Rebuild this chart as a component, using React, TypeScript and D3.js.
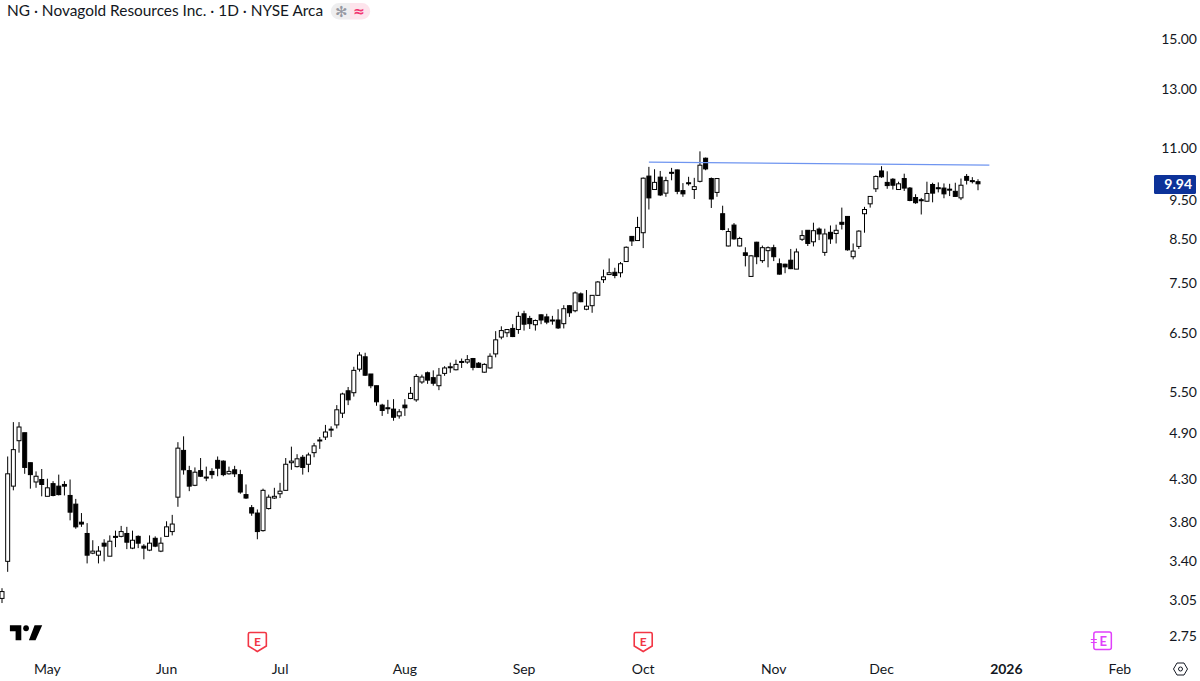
import React from "react";
import * as d3 from "d3";

const opens = [3.06,3.40,4.21,4.79,4.90,4.50,4.26,4.29,4.09,4.24,4.21,4.23,4.10,4.00,3.80,3.68,3.48,3.46,3.58,3.45,3.65,3.65,3.68,3.53,3.65,3.55,3.51,3.63,3.50,3.65,3.70,4.08,4.66,4.40,4.22,4.40,4.32,4.39,4.53,4.52,4.36,4.41,4.35,4.11,3.96,3.90,3.71,3.95,4.07,4.12,4.16,4.50,4.45,4.57,4.48,4.63,4.79,4.84,4.94,5.01,5.18,5.52,5.49,5.87,6.08,5.79,5.60,5.30,5.26,5.24,5.14,5.30,5.40,5.38,5.66,5.81,5.73,5.60,5.80,5.90,5.86,6.00,5.99,6.05,5.97,5.82,5.89,6.13,6.43,6.51,6.59,6.57,6.87,6.78,6.66,6.85,6.81,6.75,6.75,6.68,7.03,6.93,7.27,6.96,7.03,7.24,7.57,7.68,7.73,7.72,7.97,8.56,8.46,8.65,10.16,9.78,10.13,9.68,10.27,10.34,9.75,9.97,9.78,10.01,10.69,10.09,9.70,9.13,8.33,8.84,8.33,8.17,7.64,8.42,7.99,8.22,8.29,7.92,7.91,8.00,7.80,8.49,8.71,8.43,8.74,8.18,8.66,8.63,8.91,9.06,8.08,8.32,9.13,9.39,9.80,10.31,9.98,10.07,9.78,10.09,9.82,9.56,9.50,9.46,9.92,9.83,9.82,9.79,9.73,9.55,10.15,10.03,10.00];
const highs = [3.15,4.58,5.05,5.05,4.90,4.50,4.39,4.42,4.30,4.27,4.35,4.27,4.29,4.06,3.90,3.79,3.61,3.55,3.62,3.66,3.71,3.76,3.75,3.71,3.66,3.57,3.66,3.65,3.64,3.81,3.88,4.77,4.85,4.46,4.44,4.56,4.45,4.43,4.58,4.53,4.45,4.46,4.41,4.23,3.99,3.94,4.18,4.11,4.19,4.25,4.56,4.71,4.61,4.60,4.63,4.76,4.84,5.01,4.99,5.30,5.49,5.58,5.91,6.16,6.15,5.79,5.60,5.32,5.38,5.39,5.24,5.39,5.58,5.79,5.78,5.83,5.85,5.89,5.92,5.98,6.03,6.05,6.11,6.06,5.99,5.97,6.14,6.54,6.63,6.58,6.67,6.91,6.93,6.83,6.76,6.86,6.87,6.83,6.96,7.04,7.04,7.32,7.30,7.35,7.24,7.54,7.79,8.04,7.83,7.96,8.32,8.57,9.05,10.12,10.43,10.36,10.31,10.14,10.40,10.35,9.96,10.14,10.11,10.90,10.71,10.12,10.10,9.34,8.76,8.89,8.55,8.30,8.12,8.43,8.34,8.32,8.36,8.04,7.92,8.26,8.27,8.71,8.71,8.90,8.78,8.75,8.83,8.85,9.29,9.07,8.39,8.71,9.31,9.60,10.18,10.45,10.30,10.10,10.00,10.23,9.85,9.65,9.55,10.00,9.97,9.98,9.95,9.94,9.97,10.09,10.22,10.13,10.07];
const lows = [3.02,3.30,4.16,4.63,4.36,4.18,4.19,4.09,4.09,4.09,4.10,4.10,3.82,3.73,3.75,3.38,3.47,3.38,3.40,3.45,3.54,3.64,3.52,3.52,3.53,3.42,3.50,3.54,3.49,3.65,3.66,3.97,4.35,4.15,4.21,4.32,4.27,4.30,4.33,4.33,4.35,4.32,4.12,4.06,3.87,3.62,3.70,3.94,4.06,4.07,4.16,4.41,4.44,4.35,4.38,4.57,4.68,4.80,4.84,4.96,5.11,5.30,5.43,5.83,5.76,5.56,5.29,5.14,5.17,5.07,5.10,5.14,5.39,5.35,5.63,5.63,5.60,5.53,5.76,5.81,5.85,5.89,5.96,5.85,5.89,5.81,5.88,6.07,6.39,6.43,6.43,6.49,6.55,6.58,6.55,6.67,6.67,6.66,6.58,6.59,6.81,6.90,7.10,6.94,6.89,7.23,7.50,7.67,7.60,7.62,7.96,8.33,8.45,8.28,9.24,9.77,9.60,9.58,10.04,9.65,9.58,9.89,9.52,9.98,10.33,9.28,9.58,8.71,8.32,8.48,8.32,7.86,7.63,7.91,7.94,7.84,7.98,7.68,7.71,7.80,7.80,8.45,8.33,8.32,8.47,8.10,8.38,8.39,8.73,8.22,8.02,8.26,8.65,9.29,9.71,10.11,9.80,9.78,9.78,9.74,9.46,9.39,9.11,9.45,9.43,9.70,9.54,9.60,9.58,9.49,9.92,9.95,9.76];
const closes = [3.12,4.36,4.67,4.98,4.44,4.35,4.33,4.23,4.19,4.10,4.11,4.21,3.91,3.75,3.78,3.46,3.50,3.50,3.55,3.60,3.64,3.70,3.59,3.61,3.58,3.53,3.58,3.55,3.58,3.75,3.78,4.69,4.41,4.21,4.38,4.33,4.31,4.35,4.43,4.35,4.39,4.36,4.14,4.07,3.90,3.70,4.16,4.08,4.09,4.15,4.48,4.52,4.55,4.44,4.60,4.72,4.80,4.91,4.95,5.23,5.47,5.38,5.85,6.11,5.77,5.60,5.35,5.22,5.25,5.12,5.20,5.26,5.48,5.75,5.74,5.69,5.64,5.77,5.89,5.91,5.95,5.99,6.03,5.90,5.90,5.95,6.09,6.38,6.55,6.57,6.44,6.82,6.67,6.68,6.74,6.75,6.71,6.74,6.60,6.97,6.89,7.29,7.11,7.02,7.24,7.52,7.63,7.72,7.66,7.92,8.30,8.45,8.78,10.10,9.55,9.98,9.63,10.03,10.26,9.73,9.66,9.96,9.86,10.48,10.37,9.52,10.09,8.73,8.68,8.50,8.51,8.11,8.10,8.08,8.29,8.29,8.08,7.69,7.85,7.81,8.19,8.58,8.39,8.70,8.62,8.62,8.50,8.71,8.86,8.24,8.21,8.69,9.24,9.59,10.15,10.14,9.89,9.90,9.94,9.82,9.48,9.42,9.49,9.67,9.68,9.82,9.66,9.78,9.59,9.90,10.04,10.02,9.94];

const priceTicks = [17, 15, 13, 11, 9.5, 8.5, 7.5, 6.5, 5.5, 4.9, 4.3, 3.8, 3.4, 3.05, 2.75];
const monthLabels = ["May", "Jun", "Jul", "Aug", "Sep", "Oct", "Nov", "Dec", "2026", "Feb"];
const monthIndex = [8, 29, 49, 71, 92, 113, 136, 155, 177, 197];
const earningsIndex = [45, 113];
const dividendIndex = [194];
const trendIndex = [114, 174];
const trendPrice = [10.57, 10.48];
const lastPrice = 9.94;

const FONT = "Lato, 'Noto Sans', sans-serif";
const INK = "#131722";

export default function App() {
  const x = d3.scaleLinear().domain([0, 172]).range([2, 978]);
  const y = d3.scaleLog().domain([2.75, 15]).range([636, 39]);
  const trend = d3.line<number>()
    .x((d) => x(d))
    .y((_, i) => y(trendPrice[i]));

  const shield = "M0 1.5 Q0 0 1.5 0 H16.5 Q18 0 18 1.5 V13.5 L9 19 L0 13.5 Z";

  return (
    <svg
      width={1200}
      height={681}
      style={{ position: "absolute", left: 0, top: 0, display: "block", background: "#fff" }}
      fontFamily={FONT}
    >
      <rect width={1200} height={681} fill="#fff" />

      <g>
        {opens.map((o, i) => {
          const c = closes[i];
          const up = c >= o;
          const top = y(Math.max(o, c));
          const bot = y(Math.min(o, c));
          const cx = x(i);
          return (
            <g key={i}>
              <line x1={cx} x2={cx} y1={y(highs[i])} y2={y(lows[i])} stroke="#000" strokeWidth={1} />
              <rect
                x={cx - 2}
                width={4}
                y={top}
                height={Math.max(bot - top, 1)}
                fill={up ? "#fff" : "#000"}
                stroke="#000"
                strokeWidth={1}
              />
            </g>
          );
        })}
      </g>

      <path d={trend(trendIndex) ?? ""} fill="none" stroke="#6f95f0" strokeWidth={1.3} />

      {priceTicks.map((p) => (
        <text key={p} x={1197} y={y(p)} dy="0.36em" textAnchor="end" fontSize={14} fill={INK}>
          {p.toFixed(2)}
        </text>
      ))}

      <rect x={1154} y={175} width={42} height={19} rx={1.5} fill="#0c3299" />
      <text x={1192} y={y(lastPrice) + 0.5} dy="0.36em" textAnchor="end" fontSize={14} fontWeight={700} fill="#fff">
        {lastPrice.toFixed(2)}
      </text>

      {monthLabels.map((m, i) => (
        <text
          key={m}
          x={x(monthIndex[i])}
          y={674}
          textAnchor="middle"
          fontSize={14}
          fontWeight={m === "2026" ? 700 : 400}
          fill={INK}
        >
          {m}
        </text>
      ))}

      <text x={7} y={16} fontSize={15.4} fill={INK}>
        NG · Novagold Resources Inc. · 1D · NYSE Arca
      </text>

      <path d="M339 3 H350 V19.5 H339 A8.25 8.25 0 0 1 339 3 Z" fill="#eeeeef" />
      <path d="M350 3 H362 A8.25 8.25 0 0 1 362 19.5 H350 Z" fill="#fde4ec" />
      <text x={341} y={17} textAnchor="middle" fontSize={15} fill="#9598a1">✻</text>
      <text x={359} y={16} textAnchor="middle" fontSize={14} fontWeight={700} fontFamily="'DejaVu Sans', sans-serif" fill="#f23672">≈</text>

      <g transform="translate(8 619.3) scale(0.95 1)" fill="#000">
        <path d="M14 6H2v6h6v9h6zM29 21h-7l6-15h8z" />
        <circle cx={19} cy={9} r={3} />
      </g>

      {earningsIndex.map((ix) => (
        <g key={ix} transform={`translate(${x(ix) - 9} 632.5)`}>
          <path d={shield} fill="#fff" stroke="#f23645" strokeWidth={1.6} />
          <text x={9} y={13.5} textAnchor="middle" fontSize={12} fontWeight={700} fill="#f23645">E</text>
        </g>
      ))}

      {dividendIndex.map((ix) => (
        <g key={ix} transform={`translate(${x(ix) - 9} 632)`}>
          <rect x={0} y={0} width={17.5} height={17.5} rx={2} fill="#fff" stroke="#e040fb" strokeWidth={1.5} />
          <path d="M-3 7.5H3M-3 10.5H3" stroke="#e040fb" strokeWidth={1.2} />
          <text x={9.5} y={13.5} textAnchor="middle" fontSize={13} fontWeight={700} fill="#e040fb">E</text>
        </g>
      ))}

      <g transform="translate(1180.5 669)" fill="none" stroke={INK} strokeWidth={1}>
        <path d="M-7 0 L-3.5 -6 H3.5 L7 0 L3.5 6 H-3.5 Z" />
        <circle r={2} />
      </g>
    </svg>
  );
}
